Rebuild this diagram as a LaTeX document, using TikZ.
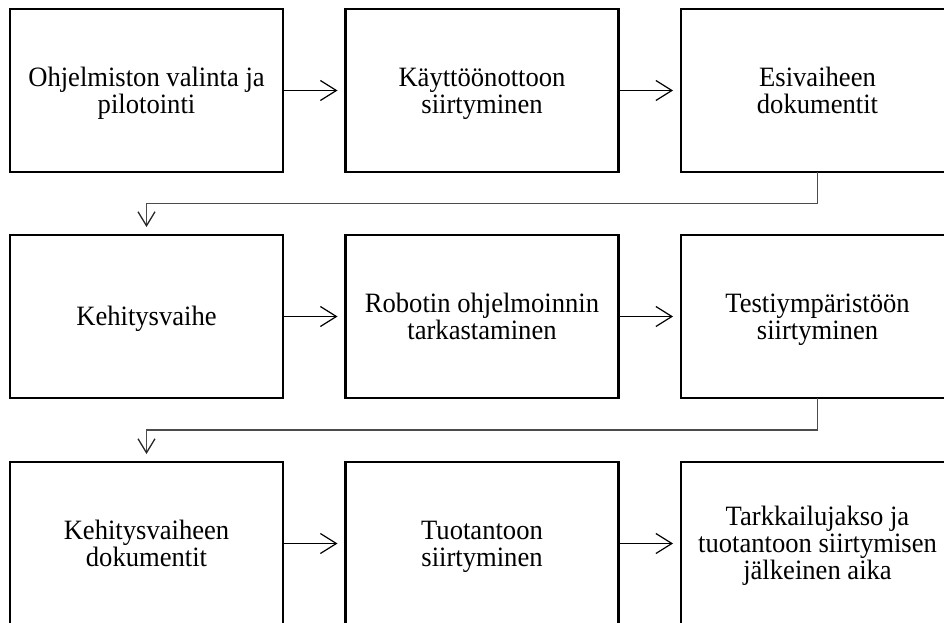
\documentclass[tikz,border=0pt]{standalone}
\usepackage{fontspec}
\setmainfont{Liberation Serif}[FakeStretch=0.95]
\usetikzlibrary{arrows.meta}
\newcommand\lns[1]{\vbox{\baselineskip=27pt\lineskiplimit=-100pt\lineskip=0pt\halign{\hfil##\hfil\cr#1\crcr}}}
\begin{document}
\begin{tikzpicture}[x=1pt,y=-1pt,
  box/.style={draw=black, line width=2.6pt, minimum width=273pt, minimum height=163pt,
    inner sep=0pt, outer sep=0pt, anchor=north west, text depth=0pt,
    font=\fontsize{28}{27}\selectfont},
  one/.style={text height=18.5pt},
  two/.style={text height=45.5pt},
  three/.style={text height=72.5pt},
  arr/.style={line width=1.2pt, -{Straight Barb[length=16pt,width=20pt,line width=1.2pt]}, shorten >=8pt},
  elb/.style={draw=black!70, line width=1.5pt, -{Straight Barb[length=14pt,width=17pt,line width=1.3pt,color=black!85]}, shorten >=8pt}
]
\useasboundingbox (0,0) rectangle (944,623);
\clip (0,0) rectangle (944,623);
\node[box,two] (b1) at (10,9) {\lns{Ohjelmiston valinta ja\cr pilotointi}};
\node[box,two] (b2) at (345.5,9) {\lns{Käyttöönottoon\cr siirtyminen}};
\node[box,two] (b3) at (681,9) {\lns{Esivaiheen\cr dokumentit}};
\node[box,one] (b4) at (10,235) {\lns{Kehitysvaihe}};
\node[box,two] (b5) at (345.5,235) {\lns{Robotin ohjelmoinnin\cr tarkastaminen}};
\node[box,two] (b6) at (681,235) {\lns{Testiympäristöön\cr siirtyminen}};
\node[box,two] (b7) at (10,462) {\lns{Kehitysvaiheen\cr dokumentit}};
\node[box,two] (b8) at (345.5,462) {\lns{Tuotantoon\cr siirtyminen}};
\node[box,three] (b9) at (681,462) {\lns{Tarkkailujakso ja\cr tuotantoon siirtymisen\cr jälkeinen aika}};
\draw[arr] (b1) -- (b2);
\draw[arr] (b2) -- (b3);
\draw[arr] (b4) -- (b5);
\draw[arr] (b5) -- (b6);
\draw[arr] (b7) -- (b8);
\draw[arr] (b8) -- (b9);
\draw[elb] (b3.south) -- ++(0,31.5) -| (b4.north);
\draw[elb] (b6.south) -- ++(0,32) -| (b7.north);
\end{tikzpicture}
\end{document}
